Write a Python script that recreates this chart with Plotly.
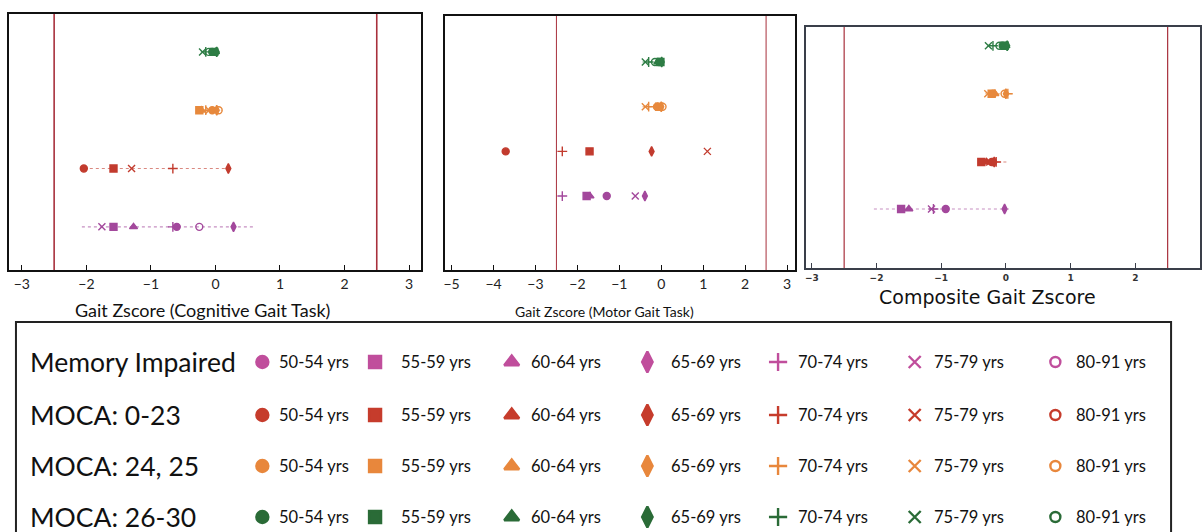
import plotly.graph_objects as go

# ---------------- data ----------------
AGE_GROUPS = ["50-54 yrs", "55-59 yrs", "60-64 yrs", "65-69 yrs", "70-74 yrs", "75-79 yrs", "80-91 yrs"]
COHORTS = ["Memory Impaired", "MOCA: 0-23", "MOCA: 24, 25", "MOCA: 26-30"]

# Gait Zscore (Cognitive Gait Task) per age group
cog_memory_impaired = [-0.60, -1.58, -1.27, 0.28, -0.66, -1.76, -0.25]
cog_moca_0_23 = [-2.04, -1.58, None, 0.20, -0.66, -1.30, None]
cog_moca_24_25 = [-0.05, -0.25, -0.22, 0.02, -0.15, -0.10, 0.05]
cog_moca_26_30 = [-0.05, -0.02, 0.00, 0.02, -0.15, -0.20, -0.10]
cog_ranges = [[-2.07, 0.59], [-2.04, 0.22], [-0.29, 0.10], [-0.20, 0.06]]

# Gait Zscore (Motor Gait Task)
mot_memory_impaired = [-1.30, -1.78, -1.70, -0.39, -2.36, -0.62, None]
mot_moca_0_23 = [-3.71, -1.71, None, -0.23, -2.36, 1.10, None]
mot_moca_24_25 = [-0.10, -0.05, -0.08, 0.00, -0.30, -0.38, 0.03]
mot_moca_26_30 = [-0.05, -0.02, -0.08, 0.01, -0.30, -0.38, -0.15]
mot_ranges = [None, None, [-0.45, 0.05], [-0.45, 0.03]]

# Composite Gait Zscore
comp_memory_impaired = [-0.93, -1.62, -1.50, -0.02, -1.12, -1.15, None]
comp_moca_0_23 = [-0.22, -0.38, -0.30, -0.18, -0.15, -0.25, -0.20]
comp_moca_24_25 = [-0.20, -0.22, -0.17, 0.00, 0.03, -0.28, -0.02]
comp_moca_26_30 = [-0.05, -0.02, 0.00, 0.02, -0.20, -0.27, -0.10]
comp_ranges = [[-2.04, 0.06], [-0.41, 0.05], [-0.32, 0.12], [-0.29, 0.04]]

CUTOFF = 2.5
X_TICKS_COG = [-3, -2, -1, 0, 1, 2, 3]
X_TICKS_MOT = [-5, -4, -3, -2, -1, 0, 1, 2, 3]
X_TICKS_COMP = [-3, -2, -1, 0, 1, 2, 3]

# ---------------- styles ----------------
SYMBOLS = ["circle", "square", "triangle-up", "diamond-tall", "cross-thin", "x-thin", "circle-open"]
PLOT_COLORS = ["#A3489C", "#C23B2E", "#E7893D", "#2E7D45"]
LEGEND_COLORS = ["#C04E9C", "#C63C2C", "#E8873C", "#2A6B37"]
W, H = 1202, 532

panels = [
    dict(vals=[cog_memory_impaired, cog_moca_0_23, cog_moca_24_25, cog_moca_26_30], ranges=cog_ranges,
         rows=[1, 2, 3, 4], xr=[-3.2, 3.185], yr=[0.26, 4.65], xd=[8, 421], yd=[14, 270],
         ticks=X_TICKS_COG, tfont=dict(family="Lato", size=14, color="#222"), lw=2, frame="#111",
         cutw=1.6),
    dict(vals=[mot_memory_impaired, mot_moca_0_23, mot_moca_24_25, mot_moca_26_30], ranges=mot_ranges,
         rows=[1, 2, 3, 4], xr=[-5.16, 3.19], yr=[-0.655, 5.03], xd=[445, 796], yd=[16, 270],
         ticks=X_TICKS_MOT, tfont=dict(family="Lato", size=14, color="#222"), lw=2, frame="#111",
         cutw=1),
    dict(vals=[comp_memory_impaired, comp_moca_0_23, comp_moca_24_25, comp_moca_26_30], ranges=comp_ranges,
         rows=[1, 2, 3.45, 4.47], xr=[-3.09, 3.0], yr=[-0.255, 4.87], xd=[807, 1202], yd=[27, 268],
         ticks=X_TICKS_COMP, tfont=dict(family="DejaVu Sans", size=9, color="#333", weight="bold"),
         lw=1.5, frame="#3a3f4a", cutw=1.2),
]

fig = go.Figure()
layout = dict(width=W, height=H, margin=dict(l=0, r=0, t=0, b=0), paper_bgcolor="white",
              plot_bgcolor="rgba(0,0,0,0)", showlegend=False)
shapes = []
annotations = []

for i, p in enumerate(panels):
    n = "" if i == 0 else str(i + 1)
    xa, ya = "x" + n, "y" + n
    layout["xaxis" + n] = dict(domain=[p["xd"][0] / W, p["xd"][1] / W], range=p["xr"], anchor=ya,
                               showgrid=False, zeroline=False, showline=True, mirror=True,
                               linecolor=p["frame"], linewidth=p["lw"], ticks="inside", ticklen=5,
                               tickcolor=p["frame"], tickvals=p["ticks"], tickfont=p["tfont"], fixedrange=True)
    layout["yaxis" + n] = dict(domain=[1 - p["yd"][1] / H, 1 - p["yd"][0] / H], range=p["yr"], anchor=xa,
                               showgrid=False, zeroline=False, showline=True, mirror=True,
                               linecolor=p["frame"], linewidth=p["lw"], showticklabels=False, ticks="",
                               fixedrange=True)
    for c in (-CUTOFF, CUTOFF):
        shapes.append(dict(type="line", xref=xa, yref=ya + " domain", x0=c, x1=c, y0=0, y1=1,
                           line=dict(color="#A8303C", width=p["cutw"])))
    for g in range(4):
        col = PLOT_COLORS[g]
        rng = p["ranges"][g]
        if rng is not None:
            fig.add_trace(go.Scatter(x=rng, y=[p["rows"][g]] * 2, mode="lines", xaxis=xa, yaxis=ya,
                                     line=dict(color=col, width=1.1, dash="dot"), opacity=0.6,
                                     hoverinfo="skip"))
        xs, ys, syms = [], [], []
        for a, v in enumerate(p["vals"][g]):
            if v is None:
                continue
            xs.append(v)
            ys.append(p["rows"][g])
            syms.append(SYMBOLS[a])
        fig.add_trace(go.Scatter(x=xs, y=ys, mode="markers", xaxis=xa, yaxis=ya,
                                 marker=dict(symbol=syms, size=7, color=col, opacity=1,
                                             line=dict(color=col, width=1.4)),
                                 name=COHORTS[g]))

# axis titles
annotations.append(dict(text="Gait Zscore (Cognitive Gait Task)", x=202 / W, y=1 - 310 / H, xref="paper",
                        yref="paper", showarrow=False, xanchor="center", yanchor="middle",
                        font=dict(family="Lato", size=18, color="#111")))
annotations.append(dict(text="Gait Zscore (Motor Gait Task)", x=605 / W, y=1 - 311 / H, xref="paper",
                        yref="paper", showarrow=False, xanchor="center", yanchor="middle",
                        font=dict(family="Lato", size=14, color="#111")))
annotations.append(dict(text="Composite Gait Zscore", x=989 / W, y=1 - 297 / H, xref="paper",
                        yref="paper", showarrow=False, xanchor="center", yanchor="middle",
                        font=dict(family="DejaVu Sans", size=19, color="#111")))

# ---------------- custom legend ----------------
LEG_TOP = 322
shapes.append(dict(type="rect", xref="paper", yref="paper", x0=15 / W, x1=1173 / W, y0=-0.1, y1=1 - LEG_TOP / H,
                   line=dict(color="#222", width=2), fillcolor="rgba(0,0,0,0)"))
LEG_ROWS = [362, 415, 466, 517]
LEG_MARK_X = [262, 375, 512, 648, 779, 916, 1057]
LEG_TEXT_X = [277, 399, 529, 670, 797, 933, 1076]
layout["xaxis4"] = dict(domain=[0, 1], range=[0, W], visible=False, anchor="y4", fixedrange=True)
layout["yaxis4"] = dict(domain=[0, 1 - LEG_TOP / H], range=[H, LEG_TOP], visible=False, anchor="x4",
                        fixedrange=True)
for g in range(4):
    col = LEGEND_COLORS[g]
    sizes = [12, 12, 13, 15, 13, 12, 10]
    fig.add_trace(go.Scatter(x=LEG_MARK_X, y=[LEG_ROWS[g]] * 7, mode="markers", xaxis="x4", yaxis="y4",
                             marker=dict(symbol=SYMBOLS, size=sizes, color=col, opacity=1,
                                         line=dict(color=col, width=2.4)),
                             hoverinfo="skip"))
    annotations.append(dict(text=COHORTS[g], x=27 / W, y=1 - LEG_ROWS[g] / H, xref="paper", yref="paper",
                            showarrow=False, xanchor="left", yanchor="middle",
                            font=dict(family="Lato", size=26.5, color="#111")))
    for a in range(7):
        annotations.append(dict(text=AGE_GROUPS[a], x=LEG_TEXT_X[a] / W, y=1 - LEG_ROWS[g] / H,
                                xref="paper", yref="paper", showarrow=False, xanchor="left",
                                yanchor="middle", font=dict(family="Lato", size=16.5, color="#111")))

layout["shapes"] = shapes
layout["annotations"] = annotations
fig.update_layout(**layout)
fig.write_html("out.html", config={"displayModeBar": False},
               post_script="document.body.style.margin='0';document.body.style.overflow='hidden';")
